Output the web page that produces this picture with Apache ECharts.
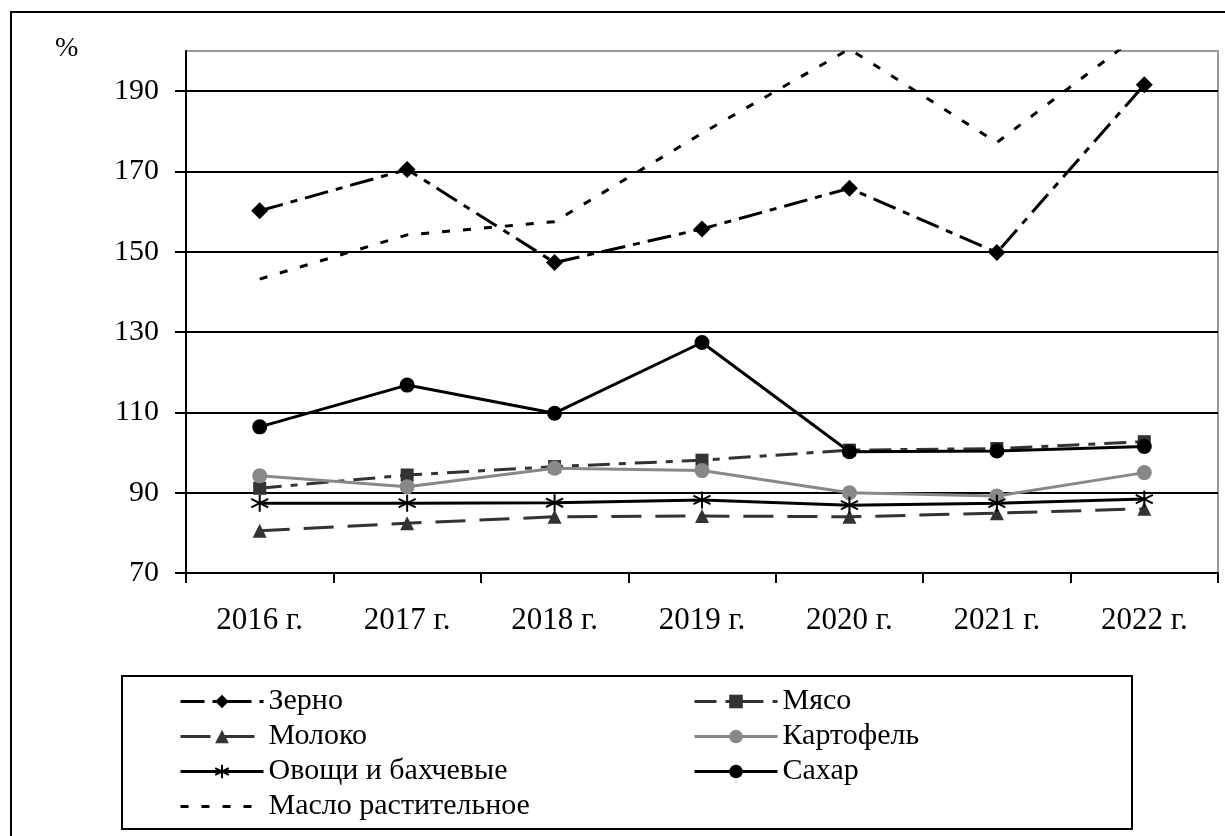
<!DOCTYPE html>
<html>
<head>
<meta charset="utf-8">
<script src="https://cdn.jsdelivr.net/npm/echarts@6/dist/echarts.min.js"></script>
<style>
html,body{margin:0;padding:0;background:#fff;}
#chart{width:1225px;height:836px;}
</style>
</head>
<body>
<div id="chart"></div>
<script>
const categories = ['2016 г.', '2017 г.', '2018 г.', '2019 г.', '2020 г.', '2021 г.', '2022 г.'];
const grain  = [160.2, 170.5, 147.3, 155.7, 165.8, 149.8, 191.6];
const meat   = [91.1, 94.4, 96.5, 98.1, 100.6, 101.0, 102.7];
const milk   = [80.5, 82.4, 84.0, 84.2, 84.0, 84.9, 86.0];
const potato = [94.2, 91.5, 96.1, 95.5, 90.0, 89.2, 95.0];
const veg    = [87.4, 87.4, 87.5, 88.2, 86.9, 87.4, 88.4];
const sugar  = [106.4, 116.8, 109.8, 127.4, 100.2, 100.4, 101.5];
const oil    = [143.2, 154.2, 157.5, 179.5, 200.5, 177.2, 205.0];
const yTicks = [70, 90, 110, 130, 150, 170, 190];
const names = ['Зерно', 'Мясо', 'Молоко', 'Картофель', 'Овощи и бахчевые', 'Сахар', 'Масло растительное'];

const FONT = '"Liberation Serif", "Times New Roman", serif';
const asterisk = 'path://M10 0 L10 20 M1.34 5 L18.66 15 M1.34 15 L18.66 5';

const chart = echarts.init(document.getElementById('chart'), null, {renderer: 'canvas'});
const legendCommon = {
  orient: 'vertical',
  top: 686,
  padding: 0,
  itemWidth: 83,
  itemHeight: 17,
  itemGap: 4,
  selectedMode: false,
  lineStyle: {width: 3},
  textStyle: {fontFamily: FONT, fontSize: 30, color: '#000', lineHeight: 31, padding: [0, 0, 0, 0]}
};
chart.setOption({
  animation: false,
  backgroundColor: '#fff',
  grid: {left: 186, right: 7, top: 51, bottom: 263, show: true, borderColor: '#999', borderWidth: 2},
  legend: [
    Object.assign({}, legendCommon, {left: 179, data: [names[0], names[2], names[4], {name: names[6], itemStyle: {color: 'rgba(0,0,0,0)', borderWidth: 0}}]}),
    Object.assign({}, legendCommon, {left: 693, data: [names[1], names[3], names[5]]})
  ],
  xAxis: {
    type: 'category',
    data: categories,
    boundaryGap: true,
    axisLine: {lineStyle: {color: '#000', width: 2}},
    axisTick: {show: true, inside: false, length: 10, lineStyle: {color: '#000', width: 2}},
    axisLabel: {fontFamily: FONT, fontSize: 31, color: '#000', margin: 32},
    splitLine: {show: false}
  },
  yAxis: {
    type: 'value',
    min: 70, max: 200, interval: 20,
    axisLine: {show: true, lineStyle: {color: '#000', width: 2}},
    axisTick: {show: true, inside: false, length: 11, lineStyle: {color: '#000', width: 2}, customValues: yTicks},
    axisLabel: {fontFamily: FONT, fontSize: 30, color: '#000', margin: 27, customValues: yTicks,
      formatter: v => (v === 200 ? '' : String(v))},
    splitLine: {show: true, lineStyle: {color: ['#000', '#000', '#000', '#000', '#000', '#000', '#000', '#999'], width: 2}}
  },
  graphic: [
    {type: 'rect', shape: {x: 11, y: 12, width: 1400, height: 1000}, style: {fill: 'none', stroke: '#000', lineWidth: 2}, z: -1},
    {type: 'rect', shape: {x: 122, y: 676, width: 1010, height: 153}, style: {fill: 'none', stroke: '#000', lineWidth: 2}},
    {type: 'text', left: 55, top: 35, style: {text: '%', font: '28px ' + FONT, fill: '#000'}}
  ],
  series: [
    {name: names[0], type: 'line', data: grain, symbol: 'diamond', symbolSize: 17,
      lineStyle: {color: '#000', width: 3, type: [24, 8, 7, 8]}, itemStyle: {color: '#000'}},
    {name: names[1], type: 'line', data: meat, symbol: 'rect', symbolSize: 13,
      lineStyle: {color: '#333', width: 3, type: [22, 9, 7, 9]}, itemStyle: {color: '#333'}},
    {name: names[2], type: 'line', data: milk, symbol: 'triangle', symbolSize: 14,
      lineStyle: {color: '#333', width: 3, type: [30, 14]}, itemStyle: {color: '#333'}},
    {name: names[3], type: 'line', data: potato, symbol: 'circle', symbolSize: 15,
      lineStyle: {color: '#888', width: 3}, itemStyle: {color: '#888'}},
    {name: names[4], type: 'line', data: veg, symbol: asterisk, symbolSize: 17,
      lineStyle: {color: '#000', width: 3}, itemStyle: {color: '#000', borderColor: '#000', borderWidth: 2}},
    {name: names[5], type: 'line', data: sugar, symbol: 'circle', symbolSize: 15,
      lineStyle: {color: '#000', width: 3}, itemStyle: {color: '#000'}},
    {name: names[6], type: 'line', data: oil, symbol: 'none', clip: true,
      lineStyle: {color: '#000', width: 3, type: [8, 13]}, itemStyle: {color: '#000'}}
  ]
});
</script>
</body>
</html>
